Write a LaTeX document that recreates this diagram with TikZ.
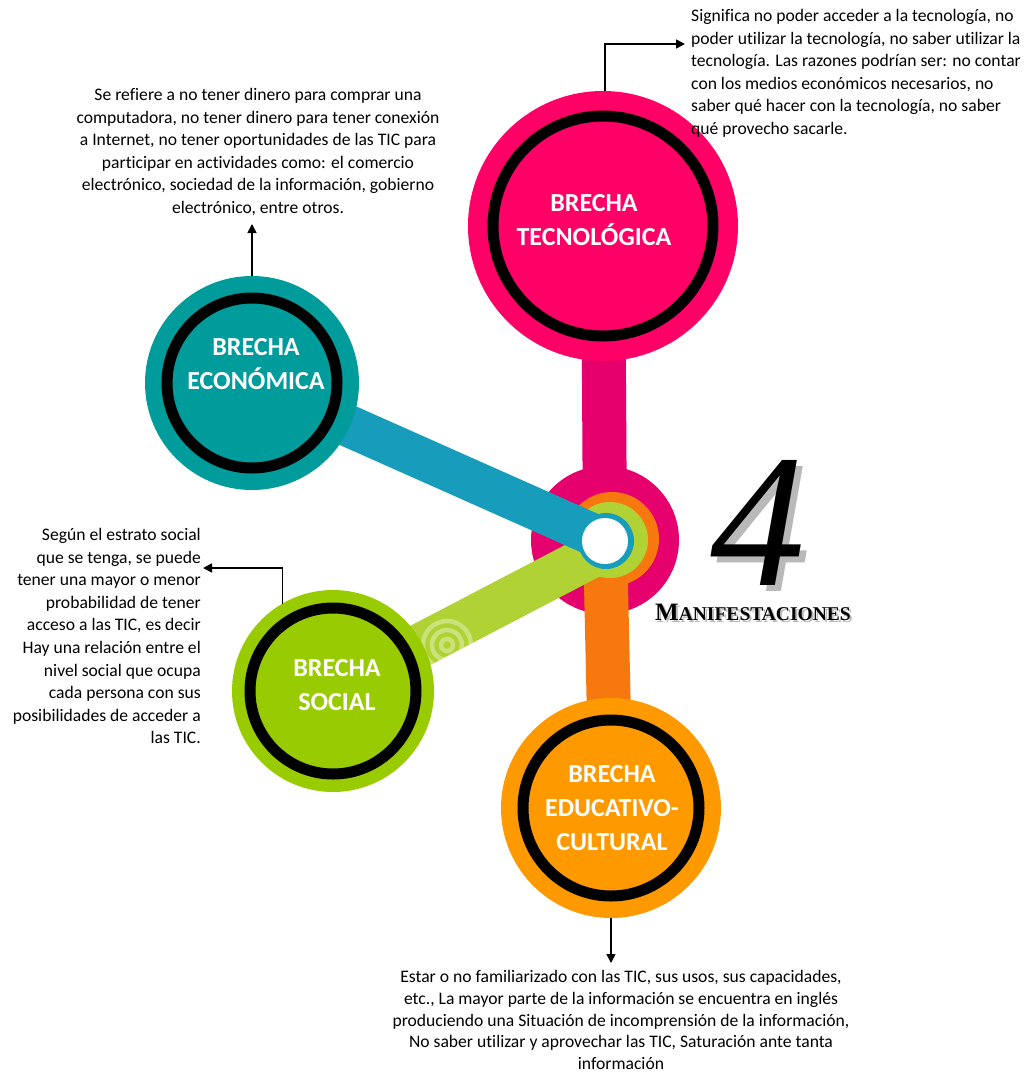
\documentclass[tikz,border=0pt]{standalone}
\usepackage{fontspec}
\setmainfont{Carlito}[Ligatures={NoCommon,NoRequired,NoContextual}]
\newfontfamily\numfont{Liberation Serif}
\usetikzlibrary{arrows.meta}

\definecolor{tecpink}{HTML}{FF0066}
\definecolor{hubpink}{HTML}{E6006E}
\definecolor{ecoteal}{HTML}{009B9B}
\definecolor{ecobar}{HTML}{179DBB}
\definecolor{socgreen}{HTML}{99CC00}
\definecolor{socbar}{HTML}{B0D234}
\definecolor{eduorange}{HTML}{FF9900}
\definecolor{edubar}{HTML}{F7780F}

\newcommand{\sombra}[3]{\rlap{\raisebox{-#1}{\kern#1\textcolor{gray!55}{#2}}}#3}

\tikzset{
  brecha/.style={circle, inner sep=0pt, outer sep=0pt, minimum size=#1},
  anillo/.style={draw=black, line width=11pt},
  titulo/.style={text=white, font=\bfseries\fontsize{26}{34}\selectfont, align=center},
  nota/.style={font=\fontsize{17.6}{22.6}\selectfont, inner sep=0pt},
  barra/.style={line width=44pt, draw=#1},
  flecha/.style={line width=1.6pt, -{Triangle[length=9pt,width=9pt]}},
}

\begin{document}
\begin{tikzpicture}[x=1pt, y=-1pt]
  \useasboundingbox (0,0) rectangle (1028,1072);
  \coordinate (hub) at (605,540);
  \coordinate (cTec) at (603,226);
  \coordinate (cEco) at (252,383);
  \coordinate (cSoc) at (333,691);
  \coordinate (cEdu) at (611,808);
  \coordinate (gEnd) at (601,551);

  % brazos y centro
  \draw[barra=hubpink] (cTec) -- (hub);
  \fill[hubpink] (hub) circle[radius=74pt];
  \draw[barra=edubar] (hub) -- (cEdu);
  \fill[edubar] (612,539) circle[radius=47pt];
  \draw[barra=socbar] (cSoc) -- (gEnd);
  \fill[socbar] (610,540) circle[radius=38pt];
  \begin{scope}
    \clip (343.2,710.5) -- (613.2,569.5) -- (592.8,530.5) -- (322.8,671.5) -- cycle;
    \foreach \r in {6,15,24}
      \draw[white, opacity=.35, line width=4.5pt] (447,645) circle[radius=\r pt];
  \end{scope}
  \draw[barra=ecobar, line width=42pt] (cEco) -- (hub);
  \fill[ecobar] (606,541) circle[radius=28pt];
  \fill[white] (605,541) circle[radius=23pt];

  % las cuatro brechas
  \node[brecha=270pt, fill=tecpink] (tec) at (cTec) {};
  \draw[anillo] (tec.center) circle[radius=110pt];
  \node[brecha=214pt, fill=ecoteal] (eco) at (cEco) {};
  \draw[anillo] (eco.center) circle[radius=85pt];
  \node[brecha=202pt, fill=socgreen] (soc) at (cSoc) {};
  \draw[anillo] (soc.center) circle[radius=83pt];
  \node[brecha=220pt, fill=eduorange] (edu) at (cEdu) {};
  \draw[anillo] (edu.center) circle[radius=88pt];

  \node[titulo] (tecT) at (594,220) {BRECHA\\TECNOLÓGICA};
  \node[titulo] (ecoT) at (256,364) {BRECHA\\ECONÓMICA};
  \node[titulo] (socT) at (337,685) {BRECHA\\SOCIAL};
  \node[titulo] (eduT) at (612,808) {BRECHA\\EDUCATIVO-\\CULTURAL};

  % textos
  \node[nota, anchor=north west, align=left] (tecN) at (691,9)
    {Significa no poder acceder a la tecnología, no\\
     poder utilizar la tecnología, no saber utilizar la\\
     tecnología. Las razones podrían ser: no contar\\
     con los medios económicos necesarios, no\\
     saber qué hacer con la tecnología, no saber\\
     qué provecho sacarle.};
  \node[nota, anchor=north, align=center] (ecoN) at (258,88)
    {Se refiere a no tener dinero para comprar una\\
     computadora, no tener dinero para tener conexión\\
     a Internet, no tener oportunidades de las TIC para\\
     participar en actividades como: el comercio\\
     electrónico, sociedad de la información, gobierno\\
     electrónico, entre otros.};
  \node[nota, anchor=north east, align=right] (socN) at (201,528)
    {Según el estrato social\\
     que se tenga, se puede\\
     tener una mayor o menor\\
     probabilidad de tener\\
     acceso a las TIC, es decir\\
     Hay una relación entre el\\
     nivel social que ocupa\\
     cada persona con sus\\
     posibilidades de acceder a\\
     las TIC.};
  \node[nota, anchor=north, align=center, font=\fontsize{17.6}{21.8}\selectfont] (eduN) at (621,970)
    {Estar o no familiarizado con las TIC, sus usos, sus capacidades,\\
     etc., La mayor parte de la información se encuentra en inglés\\
     produciendo una Situación de incomprensión de la información,\\
     No saber utilizar y aprovechar las TIC, Saturación ante tanta\\
     información};

  % flechas
  \coordinate (tecTip) at (685,44);
  \coordinate (ecoTip) at (252,224);
  \coordinate (socTip) at (203,568);
  \coordinate (eduTip) at (611,963);
  \draw[flecha] ([xshift=2pt]tec.north) |- (tecTip);
  \draw[flecha] (eco.north) -- (ecoTip);
  \draw[flecha] (soc.120) |- (socTip);
  \draw[flecha] (edu.south) -- (eduTip);

  % 4 manifestaciones
  \node[anchor=base, font=\numfont\itshape\fontsize{190}{190}\selectfont] (cuatro) at (758,585)
    {\sombra{6pt}{4}{4}};
  \node[anchor=base, font=\numfont\bfseries] (mani) at (753,620)
    {\sombra{2pt}{{\fontsize{25}{25}\selectfont M}{\fontsize{19.5}{19.5}\selectfont ANIFESTACIONES}}{{\fontsize{25}{25}\selectfont M}{\fontsize{19.5}{19.5}\selectfont ANIFESTACIONES}}};
\end{tikzpicture}
\end{document}
